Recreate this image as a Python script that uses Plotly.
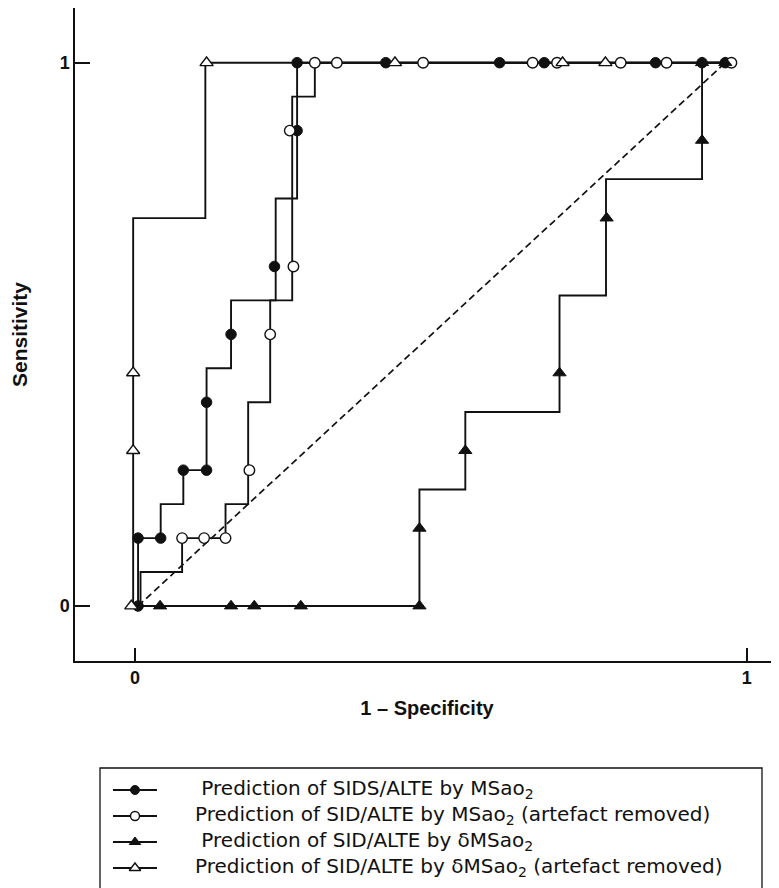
import plotly.graph_objects as go

W, H = 779, 888
OFF = 8  # the page body adds an 8px margin; positions below are in reference pixels

# ---------------- data ----------------
# A: Prediction of SIDS/ALTE by MSaO2 (filled circles)
a_path_x = [0.005, 0.005, 0.042, 0.042, 0.079, 0.079, 0.117, 0.117, 0.157, 0.157, 0.230, 0.230, 0.265, 0.265, 0.965]
a_path_y = [0.0, 0.125, 0.125, 0.1875, 0.1875, 0.25, 0.25, 0.4375, 0.4375, 0.5625, 0.5625, 0.75, 0.75, 1.0, 1.0]
a_pts_x = [0.005, 0.005, 0.042, 0.079, 0.117, 0.117, 0.157, 0.228, 0.265, 0.265, 0.410, 0.596, 0.669, 0.851, 0.927, 0.965]
a_pts_y = [0.0, 0.125, 0.125, 0.25, 0.25, 0.375, 0.5, 0.625, 0.875, 1.0, 1.0, 1.0, 1.0, 1.0, 1.0, 1.0]

# B: Prediction of SID/ALTE by MSaO2 (artefact removed) (open circles)
b_path_x = [0.009, 0.009, 0.077, 0.077, 0.148, 0.148, 0.185, 0.185, 0.221, 0.221, 0.257, 0.257, 0.294, 0.294, 0.975]
b_path_y = [0.0, 0.0625, 0.0625, 0.125, 0.125, 0.1875, 0.1875, 0.375, 0.375, 0.5625, 0.5625, 0.9375, 0.9375, 1.0, 1.0]
b_pts_x = [0.077, 0.113, 0.148, 0.187, 0.221, 0.259, 0.253, 0.294, 0.330, 0.471, 0.650, 0.690, 0.794, 0.869, 0.975]
b_pts_y = [0.125, 0.125, 0.125, 0.25, 0.5, 0.625, 0.875, 1.0, 1.0, 1.0, 1.0, 1.0, 1.0, 1.0, 1.0]

# C: Prediction of SID/ALTE by dMSaO2 (filled triangles)
c_path_x = [0.005, 0.465, 0.465, 0.540, 0.540, 0.694, 0.694, 0.770, 0.770, 0.927, 0.927, 0.965]
c_path_y = [0.0, 0.0, 0.2143, 0.2143, 0.357, 0.357, 0.5714, 0.5714, 0.7857, 0.7857, 1.0, 1.0]
c_pts_x = [0.041, 0.157, 0.195, 0.271, 0.465, 0.465, 0.540, 0.694, 0.771, 0.927, 0.927, 0.965]
c_pts_y = [0.0, 0.0, 0.0, 0.0, 0.0, 0.143, 0.286, 0.429, 0.714, 0.857, 1.0, 1.0]

# D: Prediction of SID/ALTE by dMSaO2 (artefact removed) (open triangles)
d_path_x = [-0.003, -0.003, 0.115, 0.115, 0.965]
d_path_y = [0.0, 0.714, 0.714, 1.0, 1.0]
d_pts_x = [-0.006, -0.003, -0.003, 0.117, 0.425, 0.699, 0.769]
d_pts_y = [0.0, 0.286, 0.429, 1.0, 1.0, 1.0, 1.0]

# chance line
diag_x = [0.005, 0.965]
diag_y = [0.0, 1.0]

tick_vals = [0, 1]
tick_text = ["0", "1"]
x_title = "1 \u2013 Specificity"
y_title = "Sensitivity"
legend_labels = [
    "Prediction of SIDS/ALTE by MSao<sub>2</sub>",
    "Prediction of SID/ALTE by MSao<sub>2</sub> (artefact removed)",
    "Prediction of SID/ALTE by \u03b4MSao<sub>2</sub>",
    "Prediction of SID/ALTE by \u03b4MSao<sub>2</sub> (artefact removed)",
]

# ---------------- styling ----------------
FONT = "Liberation Sans, Arial, Helvetica, sans-serif"
LEG_FONT = "DejaVu Sans, Liberation Sans, sans-serif"
INK = "#111111"
LW = 1.9

styles = [
    dict(symbol="circle", size=10.5, color=INK, line=dict(color=INK, width=1)),
    dict(symbol="circle", size=10.5, color="white", line=dict(color=INK, width=1.4)),
    dict(symbol="triangle-up", size=11.5, color=INK, line=dict(color=INK, width=1)),
    dict(symbol="triangle-up", size=11.5, color="white", line=dict(color=INK, width=1.4)),
]
series = [
    (a_path_x, a_path_y, a_pts_x, a_pts_y),
    (b_path_x, b_path_y, b_pts_x, b_pts_y),
    (c_path_x, c_path_y, c_pts_x, c_pts_y),
    (d_path_x, d_path_y, d_pts_x, d_pts_y),
]


def fx(px):  # reference pixel -> paper x
    return (px - OFF) / W


def fy(py):  # reference pixel -> paper y
    return 1 - (py - OFF) / H


# plot area in reference pixels
PL, PR, PT, PB = 75, 779, 8, 661
X0PX, X1PX = 135, 746.7   # pixel of x=0 and x=1
Y0PX, Y1PX = 606, 62.7    # pixel of y=0 and y=1
sx = (X1PX - X0PX)
sy = (Y0PX - Y1PX)
x_range = [(PL - X0PX) / sx, (PR - X0PX) / sx]
y_range = [(Y0PX - PB) / sy, (Y0PX - PT) / sy]

fig = go.Figure()

fig.add_trace(go.Scatter(x=diag_x, y=diag_y, mode="lines",
                         line=dict(color=INK, width=1.7, dash="7px,4px"),
                         showlegend=False, hoverinfo="skip"))

for (px_, py_, mx, my), st, name in zip(series, styles, legend_labels):
    fig.add_trace(go.Scatter(x=px_, y=py_, mode="lines",
                             line=dict(color=INK, width=LW),
                             showlegend=False, name=name))
for (px_, py_, mx, my), st, name in zip(series, styles, legend_labels):
    fig.add_trace(go.Scatter(x=mx, y=my, mode="markers", marker=st,
                             showlegend=False, name=name, cliponaxis=False))

# ---------------- legend (drawn manually) ----------------
LEG_BOX = (100, 768, 762, 900)
LEG_FS = 20
first_row = 790
pitch = 1.3 * LEG_FS
row_y = [first_row + pitch * i for i in range(4)]
glyph_x0, glyph_x1, glyph_xm = 113, 157, 135

for i, st in enumerate(styles):
    fig.add_trace(go.Scatter(x=[glyph_x0, glyph_x1], y=[row_y[i], row_y[i]],
                             mode="lines", line=dict(color=INK, width=LW),
                             xaxis="x2", yaxis="y2", showlegend=False, hoverinfo="skip"))
    fig.add_trace(go.Scatter(x=[glyph_xm], y=[row_y[i]], mode="markers",
                             marker=dict(st, size=st["size"] - 1.5),
                             xaxis="x2", yaxis="y2", showlegend=False, hoverinfo="skip"))

indent = ["\u00a0", "", "\u00a0", ""]
legend_text = "<br>".join(ind + lab for ind, lab in zip(indent, legend_labels))
fig.add_annotation(x=fx(193), y=fy(first_row - 0.62 * pitch), xref="paper", yref="paper",
                   text=legend_text, showarrow=False, xanchor="left", yanchor="top", align="left",
                   font=dict(family=LEG_FONT, size=LEG_FS, color=INK))

fig.add_shape(type="rect", xref="paper", yref="paper",
              x0=fx(LEG_BOX[0]), x1=fx(LEG_BOX[2]),
              y0=fy(LEG_BOX[3]), y1=fy(LEG_BOX[1]),
              line=dict(color=INK, width=1.3), fillcolor="rgba(0,0,0,0)", layer="above")

axis_common = dict(showgrid=False, zeroline=False, showline=True, linecolor=INK, linewidth=1.5,
                   ticks="inside", tickcolor=INK, tickwidth=1.5,
                   tickvals=tick_vals, ticktext=tick_text,
                   tickfont=dict(family=FONT, size=18, color=INK, weight="bold"))

fig.update_layout(
    width=W, height=H,
    margin=dict(l=0, r=0, t=0, b=0),
    paper_bgcolor="white", plot_bgcolor="rgba(0,0,0,0)",
    showlegend=False,
    xaxis=dict(axis_common, range=x_range, domain=[fx(PL), fx(PR)], ticklen=13,
               title=dict(text=x_title, standoff=14,
                          font=dict(family=FONT, size=20, color=INK, weight="bold"))),
    yaxis=dict(axis_common, range=y_range, domain=[fy(PB), fy(PT)], ticklen=15,
               title=dict(text=y_title, standoff=33,
                          font=dict(family=FONT, size=21, color=INK, weight="bold"))),
    xaxis2=dict(domain=[0, 1], range=[OFF, W + OFF], visible=False, anchor="y2", fixedrange=True),
    yaxis2=dict(domain=[0, 1], range=[H + OFF, OFF], visible=False, anchor="x2", fixedrange=True),
)

fig.write_html("out.html")
